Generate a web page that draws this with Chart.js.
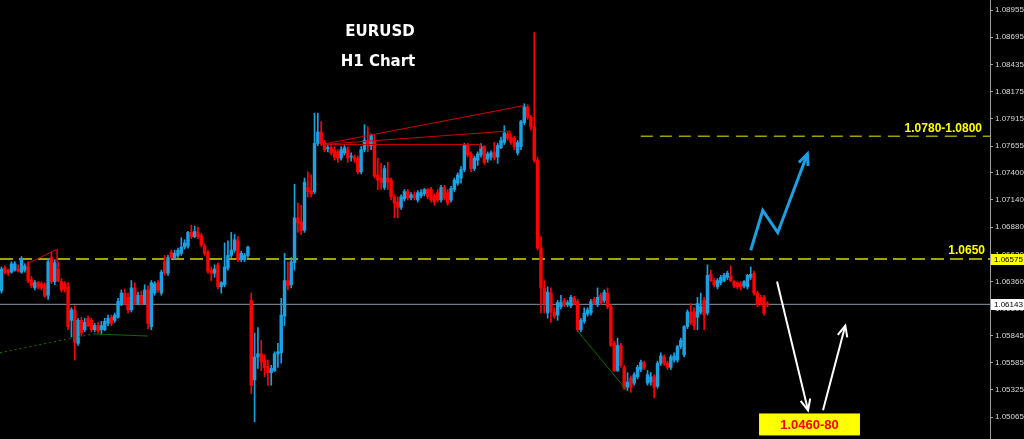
<!DOCTYPE html>
<html>
<head>
<meta charset="utf-8">
<title>EURUSD H1 Chart</title>
<script src="https://cdn.jsdelivr.net/npm/chart.js@4.4.1/dist/chart.umd.min.js"></script>
<style>
  html, body { margin: 0; padding: 0; background: #000; overflow: hidden; }
  #wrap { width: 1024px; height: 439px; }
</style>
</head>
<body>
<div id="wrap"><canvas id="chart" width="1024" height="439"></canvas></div>
<script>
// EURUSD H1 candles, oldest first
var opens = [
  1.0627,1.0649,1.0647,1.0645,1.0647,1.0648,1.0645,1.0647,1.0650,1.0638,
  1.0630,1.0635,1.0634,1.0633,1.0623,1.0659,1.0636,1.0648,1.0636,1.0634,
  1.0631,1.0599,1.0609,1.0577,1.0599,1.0590,1.0601,1.0599,1.0590,1.0594,
  1.0590,1.0590,1.0596,1.0602,1.0599,1.0602,1.0614,1.0625,1.0621,1.0609,
  1.0630,1.0615,1.0623,1.0615,1.0628,1.0593,1.0625,1.0635,1.0625,1.0655,
  1.0644,1.0664,1.0659,1.0661,1.0663,1.0669,1.0670,1.0683,1.0679,1.0683,
  1.0680,1.0670,1.0664,1.0647,1.0644,1.0652,1.0631,1.0633,1.0649,1.0661,
  1.0666,1.0675,1.0657,1.0657,1.0661,1.0618,1.0542,1.0564,1.0567,1.0561,
  1.0555,1.0549,1.0551,1.0567,1.0568,1.0603,1.0637,1.0633,1.0654,1.0697,
  1.0693,1.0685,1.0726,1.0723,1.0722,1.0768,1.0779,1.0769,1.0763,1.0764,
  1.0762,1.0760,1.0754,1.0759,1.0762,1.0755,1.0755,1.0754,1.0741,1.0762,
  1.0771,1.0766,1.0771,1.0738,1.0735,1.0726,1.0735,1.0733,1.0717,1.0712,
  1.0707,1.0715,1.0722,1.0716,1.0719,1.0714,1.0718,1.0720,1.0724,1.0724,
  1.0718,1.0721,1.0714,1.0726,1.0721,1.0714,1.0724,1.0730,1.0735,1.0743,
  1.0766,1.0758,1.0744,1.0752,1.0757,1.0765,1.0753,1.0755,1.0760,1.0755,
  1.0764,1.0769,1.0777,1.0774,1.0773,1.0759,1.0765,1.0788,1.0803,1.0793,
  1.0784,1.0752,1.0668,1.0630,1.0606,1.0625,1.0607,1.0604,1.0612,1.0618,
  1.0614,1.0613,1.0620,1.0617,1.0590,1.0598,1.0605,1.0606,1.0619,1.0614,
  1.0623,1.0618,1.0625,1.0612,1.0577,1.0551,1.0575,1.0554,1.0535,1.0544,
  1.0539,1.0545,1.0552,1.0558,1.0539,1.0540,1.0545,1.0536,1.0558,1.0564,
  1.0558,1.0554,1.0561,1.0561,1.0574,1.0566,1.0593,1.0607,1.0607,1.0602,
  1.0607,1.0618,1.0606,1.0643,1.0637,1.0631,1.0635,1.0637,1.0640,1.0641,
  1.0636,1.0635,1.0634,1.0632,1.0631,1.0640,1.0644,1.0625,1.0621,1.0621,
  1.0615
];
var highs = [
  1.0650,1.0651,1.0648,1.0655,1.0655,1.0652,1.0660,1.0653,1.0655,1.0641,
  1.0637,1.0636,1.0636,1.0635,1.0658,1.0664,1.0657,1.0655,1.0639,1.0636,
  1.0635,1.0611,1.0613,1.0601,1.0602,1.0601,1.0603,1.0601,1.0596,1.0597,
  1.0598,1.0601,1.0604,1.0604,1.0606,1.0620,1.0628,1.0629,1.0625,1.0637,
  1.0635,1.0626,1.0627,1.0633,1.0632,1.0637,1.0636,1.0637,1.0647,1.0661,
  1.0661,1.0666,1.0666,1.0668,1.0678,1.0676,1.0684,1.0690,1.0689,1.0688,
  1.0682,1.0672,1.0666,1.0650,1.0652,1.0654,1.0636,1.0673,1.0675,1.0683,
  1.0681,1.0679,1.0665,1.0663,1.0670,1.0625,1.0587,1.0592,1.0580,1.0566,
  1.0561,1.0556,1.0569,1.0577,1.0620,1.0663,1.0655,1.0659,1.0729,1.0711,
  1.0709,1.0735,1.0741,1.0738,1.0797,1.0797,1.0789,1.0771,1.0766,1.0766,
  1.0765,1.0762,1.0765,1.0766,1.0765,1.0759,1.0757,1.0756,1.0765,1.0786,
  1.0784,1.0777,1.0776,1.0754,1.0749,1.0747,1.0750,1.0735,1.0719,1.0717,
  1.0719,1.0724,1.0724,1.0721,1.0722,1.0723,1.0724,1.0725,1.0725,1.0726,
  1.0720,1.0724,1.0728,1.0728,1.0724,1.0727,1.0735,1.0740,1.0746,1.0768,
  1.0768,1.0760,1.0756,1.0760,1.0768,1.0766,1.0760,1.0761,1.0769,1.0768,
  1.0774,1.0785,1.0779,1.0777,1.0775,1.0771,1.0790,1.0806,1.0805,1.0795,
  1.0874,1.0755,1.0679,1.0637,1.0631,1.0630,1.0611,1.0618,1.0623,1.0620,
  1.0618,1.0623,1.0622,1.0619,1.0601,1.0611,1.0611,1.0619,1.0621,1.0630,
  1.0625,1.0628,1.0630,1.0614,1.0579,1.0582,1.0577,1.0556,1.0549,1.0546,
  1.0549,1.0556,1.0561,1.0560,1.0551,1.0549,1.0547,1.0560,1.0568,1.0566,
  1.0560,1.0566,1.0568,1.0575,1.0582,1.0594,1.0609,1.0615,1.0611,1.0621,
  1.0625,1.0621,1.0652,1.0647,1.0639,1.0639,1.0642,1.0644,1.0646,1.0651,
  1.0637,1.0636,1.0636,1.0637,1.0643,1.0650,1.0646,1.0627,1.0623,1.0623,
  1.0617
];
var lows = [
  1.0625,1.0643,1.0642,1.0644,1.0646,1.0645,1.0644,1.0645,1.0635,1.0630,
  1.0628,1.0629,1.0628,1.0621,1.0619,1.0634,1.0633,1.0636,1.0626,1.0626,
  1.0590,1.0583,1.0561,1.0575,1.0584,1.0588,1.0593,1.0588,1.0588,1.0587,
  1.0586,1.0589,1.0594,1.0594,1.0597,1.0601,1.0613,1.0614,1.0606,1.0607,
  1.0614,1.0614,1.0614,1.0614,1.0591,1.0590,1.0623,1.0626,1.0623,1.0642,
  1.0642,1.0658,1.0658,1.0659,1.0661,1.0667,1.0668,1.0677,1.0678,1.0677,
  1.0669,1.0661,1.0644,1.0637,1.0640,1.0629,1.0625,1.0631,1.0647,1.0659,
  1.0664,1.0655,1.0655,1.0655,1.0659,1.0529,1.0502,1.0553,1.0551,1.0545,
  1.0537,1.0537,1.0550,1.0554,1.0558,1.0594,1.0628,1.0630,1.0647,1.0683,
  1.0681,1.0683,1.0717,1.0717,1.0720,1.0766,1.0766,1.0760,1.0760,1.0757,
  1.0752,1.0750,1.0752,1.0757,1.0750,1.0751,1.0750,1.0739,1.0739,1.0760,
  1.0760,1.0762,1.0735,1.0724,1.0724,1.0724,1.0724,1.0714,1.0697,1.0697,
  1.0705,1.0713,1.0714,1.0714,1.0714,1.0712,1.0716,1.0718,1.0715,1.0712,
  1.0709,1.0712,1.0712,1.0714,1.0709,1.0712,1.0722,1.0728,1.0730,1.0741,
  1.0755,1.0741,1.0742,1.0747,1.0755,1.0748,1.0750,1.0752,1.0752,1.0749,
  1.0763,1.0767,1.0771,1.0767,1.0762,1.0757,1.0762,1.0786,1.0791,1.0781,
  1.0750,1.0666,1.0606,1.0606,1.0601,1.0597,1.0601,1.0599,1.0610,1.0612,
  1.0612,1.0611,1.0614,1.0588,1.0588,1.0596,1.0603,1.0604,1.0614,1.0612,
  1.0614,1.0616,1.0610,1.0574,1.0550,1.0550,1.0554,1.0533,1.0532,1.0530,
  1.0537,1.0543,1.0550,1.0552,1.0537,1.0537,1.0525,1.0534,1.0556,1.0556,
  1.0552,1.0552,1.0559,1.0559,1.0572,1.0564,1.0591,1.0595,1.0590,1.0590,
  1.0605,1.0590,1.0604,1.0636,1.0631,1.0629,1.0633,1.0636,1.0638,1.0636,
  1.0630,1.0629,1.0628,1.0630,1.0629,1.0638,1.0623,1.0612,1.0614,1.0604,
  1.0612
];
var closes = [
  1.0648,1.0645,1.0644,1.0653,1.0653,1.0646,1.0658,1.0651,1.0637,1.0632,
  1.0635,1.0631,1.0630,1.0622,1.0655,1.0636,1.0654,1.0637,1.0628,1.0629,
  1.0593,1.0609,1.0578,1.0599,1.0587,1.0597,1.0594,1.0590,1.0594,1.0589,
  1.0594,1.0598,1.0601,1.0596,1.0604,1.0617,1.0625,1.0615,1.0609,1.0630,
  1.0615,1.0623,1.0615,1.0628,1.0596,1.0635,1.0634,1.0628,1.0645,1.0644,
  1.0659,1.0659,1.0663,1.0666,1.0669,1.0673,1.0683,1.0679,1.0684,1.0679,
  1.0671,1.0663,1.0646,1.0644,1.0648,1.0631,1.0635,1.0650,1.0661,1.0666,
  1.0676,1.0657,1.0663,1.0661,1.0669,1.0537,1.0564,1.0567,1.0559,1.0554,
  1.0549,1.0553,1.0567,1.0569,1.0604,1.0637,1.0632,1.0655,1.0697,1.0692,
  1.0685,1.0731,1.0722,1.0720,1.0768,1.0779,1.0768,1.0762,1.0764,1.0759,
  1.0755,1.0754,1.0762,1.0764,1.0754,1.0756,1.0753,1.0741,1.0762,1.0771,
  1.0766,1.0776,1.0737,1.0733,1.0731,1.0744,1.0731,1.0717,1.0711,1.0707,
  1.0717,1.0722,1.0716,1.0719,1.0716,1.0721,1.0721,1.0724,1.0717,1.0714,
  1.0712,1.0714,1.0726,1.0716,1.0711,1.0725,1.0733,1.0738,1.0743,1.0766,
  1.0757,1.0744,1.0754,1.0758,1.0765,1.0750,1.0758,1.0759,1.0754,1.0766,
  1.0771,1.0778,1.0773,1.0769,1.0765,1.0769,1.0789,1.0803,1.0793,1.0784,
  1.0752,1.0668,1.0630,1.0615,1.0626,1.0607,1.0603,1.0616,1.0616,1.0614,
  1.0616,1.0621,1.0615,1.0590,1.0599,1.0606,1.0609,1.0617,1.0615,1.0621,
  1.0616,1.0626,1.0612,1.0575,1.0551,1.0575,1.0556,1.0535,1.0540,1.0535,
  1.0547,1.0554,1.0559,1.0554,1.0547,1.0545,1.0535,1.0558,1.0565,1.0558,
  1.0554,1.0564,1.0565,1.0574,1.0580,1.0593,1.0607,1.0597,1.0594,1.0615,
  1.0612,1.0604,1.0642,1.0637,1.0633,1.0637,1.0640,1.0642,1.0644,1.0637,
  1.0632,1.0631,1.0631,1.0636,1.0642,1.0643,1.0625,1.0614,1.0615,1.0606,
  1.0614
];

// right hand price scale
var priceTicks = [1.08955, 1.08695, 1.08435, 1.08175, 1.07915, 1.07655, 1.07400, 1.07140,
                  1.06880, 1.06620, 1.06360, 1.06100, 1.05845, 1.05585, 1.05325, 1.05065];
var priceTop = 1.09051;
var priceBottom = 1.04856;

// bar slots shown in the window (the right part is empty future space)
var firstSlot = -0.45;
var lastSlot = 296.85;

// levels
var resistance = 1.06575;
var resistanceText = "1.0650";
var targetZone = 1.0775;
var targetZoneText = "1.0780-1.0800";
var bidPrice = 1.06143;
var downTarget = [1.0510, 1.0489];
var downTargetText = "1.0460-80";

// drawings as [bar slot, price]
var wedgeTop = [[96, 1.0767], [156.6, 1.0804]];
var wedgeMid = [[96, 1.0767], [152.7, 1.0780], [152.7, 1.0774]];
var wedgeFlat = [[96, 1.0767], [143.7, 1.0767], [143.7, 1.0763]];
var earlyRed = [[7.1, 1.0652], [16.7, 1.0667], [16.7, 1.0655]];
var greenDotted = [[-0.45, 1.0568], [27.5, 1.0586]];
var greenFlat = [[27.5, 1.0586], [44, 1.0584]];
var greenDown = [[172.7, 1.0590], [187.8, 1.0532]];
var blueArrow = [[225.0, 1.0666], [228.6, 1.0704], [233.1, 1.0683], [242.0, 1.0758]];
var whiteDown = [[232.9, 1.0636], [242.2, 1.0513]];
var whiteUp = [[246.7, 1.0513], [253.4, 1.0594]];
var targetBoxSlots = [227.5, 257.8];

var BULL = "#1ba1e2";
var BEAR = "#ff0000";
var AXIS_FONT = "'Liberation Sans', Arial, sans-serif";

var toXY = function( pts ){
    return pts.map(function( p ){ return { x: p[0], y: p[1] }; });
};

var candleColor = function( ctx ){
    var i = ctx.dataIndex;
    return closes[i] >= opens[i] ? BULL : BEAR;
};

var slots = opens.map(function( v, i ){ return i; });

var lineSet = function( pts, color, width, dash, order ){
    return {
        type: "line",
        data: toXY(pts),
        borderColor: color,
        borderWidth: width,
        borderDash: dash || [],
        pointRadius: 0,
        fill: false,
        tension: 0,
        order: order
    };
};

var drawArrow = function( ctx, pts, color, width ){
    ctx.save();
    ctx.strokeStyle = color;
    ctx.lineWidth = width;
    ctx.lineJoin = "miter";
    ctx.lineCap = "butt";
    ctx.beginPath();
    pts.forEach(function( p, k ){
        if ( k === 0 ) ctx.moveTo(p[0], p[1]); else ctx.lineTo(p[0], p[1]);
    });
    ctx.stroke();
    var a = pts[pts.length - 2], b = pts[pts.length - 1];
    var ang = Math.atan2(b[1] - a[1], b[0] - a[0]);
    var len = 12;
    ctx.beginPath();
    ctx.moveTo(b[0] - len * Math.cos(ang - 0.42), b[1] - len * Math.sin(ang - 0.42));
    ctx.lineTo(b[0], b[1]);
    ctx.lineTo(b[0] - len * Math.cos(ang + 0.42), b[1] - len * Math.sin(ang + 0.42));
    ctx.stroke();
    ctx.restore();
};

var overlay = {
    id: "overlay",
    afterDatasetsDraw: function( chart ){
        var ctx = chart.ctx, xs = chart.scales.x, ys = chart.scales.y, area = chart.chartArea;
        var px = function( pts ){
            return pts.map(function( p ){ return [xs.getPixelForValue(p[0]), ys.getPixelForValue(p[1])]; });
        };

        drawArrow(ctx, px(blueArrow), BULL, 3);
        drawArrow(ctx, px(whiteDown), "#ffffff", 2);
        drawArrow(ctx, px(whiteUp), "#ffffff", 2);

        // target box
        var bx0 = xs.getPixelForValue(targetBoxSlots[0]), bx1 = xs.getPixelForValue(targetBoxSlots[1]);
        var by0 = ys.getPixelForValue(downTarget[0]), by1 = ys.getPixelForValue(downTarget[1]);
        ctx.save();
        ctx.fillStyle = "#ffff00";
        ctx.fillRect(bx0, by0, bx1 - bx0, by1 - by0);
        ctx.fillStyle = "#ff0000";
        ctx.font = "bold 13px " + AXIS_FONT;
        ctx.textAlign = "center";
        ctx.textBaseline = "middle";
        ctx.fillText(downTargetText, (bx0 + bx1) / 2, (by0 + by1) / 2 + 1);

        // level captions
        ctx.fillStyle = "#ffff00";
        ctx.font = "bold 12px " + AXIS_FONT;
        ctx.textAlign = "right";
        ctx.textBaseline = "alphabetic";
        ctx.fillText(resistanceText, area.right - 5, ys.getPixelForValue(resistance) - 5);
        ctx.fillText(targetZoneText, area.right - 8, ys.getPixelForValue(targetZone) - 4);

        // title
        ctx.fillStyle = "#ffffff";
        ctx.font = "bold 15px 'DejaVu Sans', sans-serif";
        ctx.textAlign = "center";
        ctx.textBaseline = "middle";
        ctx.fillText("EURUSD", 380, 32);
        ctx.fillText("H1 Chart", 378, 62);
        ctx.restore();
    },
    afterDraw: function( chart ){
        var ctx = chart.ctx, ys = chart.scales.y;
        var tag = function( price, bg ){
            var y = Math.round(ys.getPixelForValue(price));
            ctx.fillStyle = bg;
            ctx.fillRect(ys.left + 1, y - 5, ys.right - ys.left - 1, 11);
            ctx.fillStyle = "#000000";
            ctx.font = "8px " + AXIS_FONT;
            ctx.textAlign = "left";
            ctx.textBaseline = "middle";
            ctx.fillText(price.toFixed(5), ys.left + 4, y + 1);
        };
        ctx.save();
        tag(resistance, "#ffff00");
        tag(bidPrice, "#ffffff");
        ctx.restore();
    }
};

new Chart(document.getElementById("chart"), {
    type: "bar",
    data: {
        datasets: [
            {
                label: "bodies",
                data: slots.map(function( i ){ return { x: i, y: [opens[i], closes[i]] }; }),
                backgroundColor: candleColor,
                barThickness: 2.8,
                minBarLength: 1,
                grouped: false,
                order: 1
            },
            {
                label: "wicks",
                data: slots.map(function( i ){ return { x: i, y: [lows[i], highs[i]] }; }),
                backgroundColor: candleColor,
                barThickness: 1,
                grouped: false,
                order: 2
            },
            lineSet([[firstSlot, resistance], [lastSlot, resistance]], "#d8d800", 1.5, [13, 6], 3),
            lineSet([[192, targetZone], [lastSlot, targetZone]], "#a0a000", 1.5, [12, 7], 3),
            lineSet([[firstSlot, bidPrice], [lastSlot, bidPrice]], "#8a98a8", 1, null, 3),
            lineSet(wedgeTop, "#d00000", 1, null, 0),
            lineSet(wedgeMid, "#d00000", 1, null, 0),
            lineSet(wedgeFlat, "#c00000", 1, null, 0),
            lineSet(earlyRed, "#d00000", 1, null, 0),
            lineSet(greenDotted, "#0a7a0a", 1, [2, 3], 0),
            lineSet(greenFlat, "#0a6a0a", 1, null, 0),
            lineSet(greenDown, "#0a6a0a", 1, null, 0)
        ]
    },
    options: {
        responsive: false,
        devicePixelRatio: 1,
        animation: false,
        events: [],
        layout: { padding: 0 },
        plugins: {
            legend: { display: false },
            tooltip: { enabled: false },
            title: { display: false }
        },
        scales: {
            x: {
                type: "linear",
                min: firstSlot,
                max: lastSlot,
                offset: false,
                display: false
            },
            y: {
                type: "linear",
                position: "right",
                min: priceBottom,
                max: priceTop,
                beginAtZero: false,
                afterFit: function( scale ){
                    scale.width = 34;
                    // no extra room for the end labels, the plot runs edge to edge
                    scale.paddingTop = 0;
                    scale.paddingBottom = 0;
                },
                afterBuildTicks: function( scale ){
                    scale.ticks = priceTicks.map(function( v ){ return { value: v }; });
                },
                ticks: {
                    color: "#d8d8d8",
                    padding: 2,
                    font: { family: AXIS_FONT, size: 8 },
                    callback: function( v ){ return Number(v).toFixed(5); }
                },
                grid: {
                    drawOnChartArea: false,
                    drawTicks: true,
                    tickLength: 3,
                    color: "#a0a0a0"
                },
                border: { color: "#a0a0a0", width: 1 }
            }
        }
    },
    plugins: [overlay]
});
</script>
</body>
</html>
